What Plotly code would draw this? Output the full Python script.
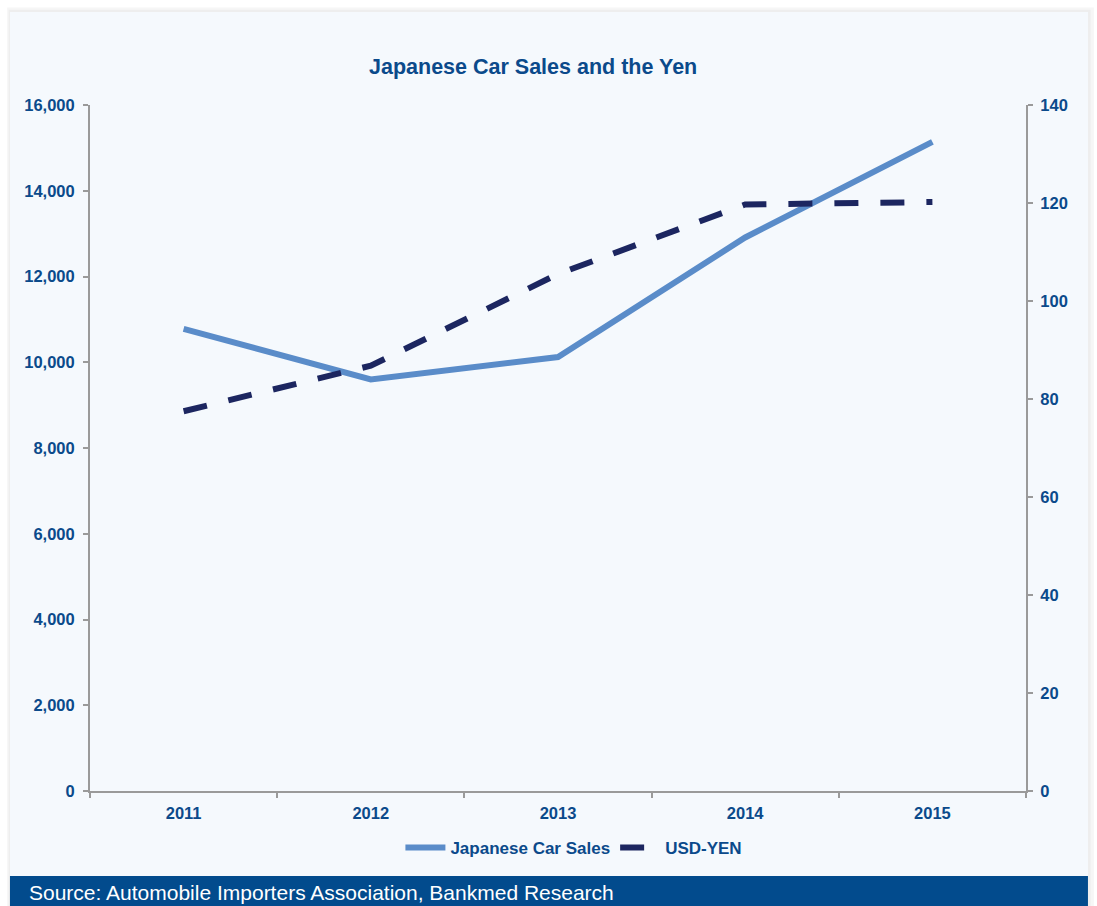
import plotly.graph_objects as go

years = ["2011", "2012", "2013", "2014", "2015"]
car_sales = [10780, 9600, 10120, 12910, 15140]
usd_yen = [77.5, 86.8, 105.5, 119.7, 120.2]

left_ticks = [0, 2000, 4000, 6000, 8000, 10000, 12000, 14000, 16000]
right_ticks = [0, 20, 40, 60, 80, 100, 120, 140]

NAVY = "#0b4a8b"
AXIS = "#9a9a9a"
FONT = "Liberation Sans, Arial, sans-serif"

fig = go.Figure()
fig.add_trace(go.Scatter(
    x=years, y=car_sales, name="Japanese Car Sales", mode="lines",
    line=dict(color="#5a8cc9", width=6),
))
fig.add_trace(go.Scatter(
    x=years, y=usd_yen, name="USD-YEN", mode="lines", yaxis="y2",
    line=dict(color="#1c2660", width=6, dash="24px,22px"),
))

axis_common = dict(
    showgrid=False, zeroline=False, showline=True, linecolor=AXIS, linewidth=2,
    ticks="outside", ticklen=5, tickcolor=AXIS, tickwidth=2,
    tickfont=dict(family=FONT, size=16.5, color=NAVY, weight="bold"),
)

fig.update_layout(
    width=1097, height=906,
    margin=dict(l=90, r=71, t=105, b=115),
    paper_bgcolor="white", plot_bgcolor="rgba(0,0,0,0)",
    showlegend=True,
    xaxis=dict(**axis_common, tickson="boundaries", type="category",
               range=[-0.5, 4.5], ticklabelstandoff=6),
    yaxis=dict(**axis_common, range=[0, 16000], tickvals=left_ticks,
               tickformat=",d", ticklabelstandoff=5),
    yaxis2=dict(**axis_common, range=[0, 140], tickvals=right_ticks,
                overlaying="y", side="right", ticklabelstandoff=4),
    legend=dict(orientation="h", x=0.517, xanchor="center", y=-0.083,
                yanchor="middle", bgcolor="rgba(0,0,0,0)",
                font=dict(family=FONT, size=17, color=NAVY, weight="bold"),
                itemwidth=40, tracegroupgap=0),
    shapes=[
        # soft card shadow
        dict(type="rect", xref="paper", yref="paper", layer="below",
             x0=-0.0885, x1=1.0725, y0=-0.18, y1=1.142,
             fillcolor="#f6f6f6", line=dict(width=0)),
        dict(type="rect", xref="paper", yref="paper", layer="below",
             x0=-0.087, x1=1.069, y0=-0.18, y1=1.139,
             fillcolor="#eeeeee", line=dict(width=0)),
        # card
        dict(type="rect", xref="paper", yref="paper", layer="below",
             x0=-0.0855, x1=1.0662, y0=-0.18, y1=1.1356,
             fillcolor="#f5f9fd", line=dict(width=0)),
        # source bar
        dict(type="rect", xref="paper", yref="paper", layer="below",
             x0=-0.0855, x1=1.0662, y0=-0.18, y1=-0.1239,
             fillcolor="#024b8d", line=dict(width=0)),
    ],
    annotations=[
        dict(text="Japanese Car Sales and the Yen", xref="paper", yref="paper",
             x=(533 - 90) / 936, y=(791 - 67) / 686, xanchor="center",
             yanchor="middle", showarrow=False,
             font=dict(family=FONT, size=21.5, color=NAVY, weight="bold")),
        dict(text="Source: Automobile Importers Association, Bankmed Research",
             xref="paper", yref="paper", x=(27 - 90) / 936,
             y=(791 - 893) / 686, xanchor="left", yanchor="middle",
             showarrow=False,
             font=dict(family=FONT, size=21, color="white")),
    ],
)

fig.write_html("out.html")
